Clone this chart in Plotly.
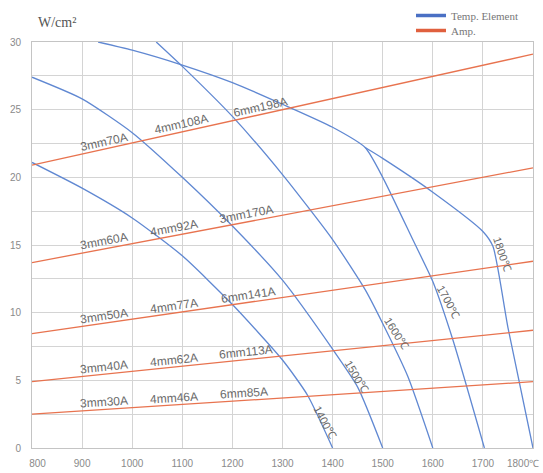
import math
import plotly.graph_objects as go

# ---- data ----
# Temperature-element curves (°C on x, W/cm² on y)
t1400_x = [800, 900, 1000, 1100, 1200, 1300, 1350, 1400]
t1400_y = [21.1, 19.2, 17.0, 14.2, 10.6, 6.5, 3.9, 0.0]

t1500_x = [800, 900, 1000, 1100, 1200, 1300, 1400, 1450, 1500]
t1500_y = [27.4, 25.8, 23.3, 20.0, 16.4, 12.4, 7.3, 4.5, 0.0]

t1600_x = [1048, 1100, 1200, 1300, 1400, 1465, 1500, 1550, 1600]
t1600_y = [30.0, 28.2, 24.5, 20.2, 15.4, 11.7, 9.2, 5.3, 0.0]

t1700_x = [932, 1000, 1100, 1200, 1300, 1400, 1465, 1500, 1560, 1600, 1640, 1703]
t1700_y = [30.0, 29.4, 28.3, 27.0, 25.4, 23.7, 22.2, 20.0, 15.4, 12.3, 8.0, 0.0]

t1800_x = [1465, 1500, 1600, 1700, 1720, 1750, 1800]
t1800_y = [22.2, 21.4, 18.9, 16.0, 14.9, 8.9, 0.0]

temp_curves = [
    ("1400℃", t1400_x, t1400_y),
    ("1500℃", t1500_x, t1500_y),
    ("1600℃", t1600_x, t1600_y),
    ("1700℃", t1700_x, t1700_y),
    ("1800℃", t1800_x, t1800_y),
]

# Temperature labels
temp_label_text = ["1400℃", "1500℃", "1600℃", "1700℃", "1800℃"]
temp_label_x = [1385, 1447, 1527, 1632, 1738]
temp_label_y = [1.95, 5.3, 8.5, 10.8, 14.3]
temp_label_angle = [62, 60, 58, 61, 72]

# Amp lines (straight, from 800 to 1800 °C)
amp_x = [800, 1800]
amp1_y = [20.9, 29.1]
amp2_y = [13.7, 20.7]
amp3_y = [8.45, 13.8]
amp4_y = [4.9, 8.7]
amp5_y = [2.5, 4.9]
amp_lines = [amp1_y, amp2_y, amp3_y, amp4_y, amp5_y]

amp_labels = [
    ["3mm70A", "4mm108A", "6mm198A"],
    ["3mm60A", "4mm92A", "3mm170A"],
    ["3mm50A", "4mm77A", "6mm141A"],
    ["3mm40A", "4mm62A", "6mm113A"],
    ["3mm30A", "4mm46A", "6mm85A"],
]
amp_label_x = [
    [950, 1105, 1263],
    [950, 1089, 1235],
    [950, 1089, 1238],
    [950, 1089, 1233],
    [950, 1089, 1229],
]

NB = "\u00a0"
x_ticks = [800, 900, 1000, 1100, 1200, 1300, 1400, 1500, 1600, 1700, 1800]
x_ticktext = [NB * 4 + "800", "900", "1000", "1100", "1200", "1300", "1400", "1500", "1600", "1700", ""]
x_last_label = "1800℃"
y_ticks = [0, 5, 10, 15, 20, 25, 30]

BLUE = "#6088d2"
RED = "#e8734f"
BLUE_LEG = "#4a70c4"
RED_LEG = "#e0603e"
TXT = "#6a6a6a"
TICK = "#8a8a8a"

W, H = 543, 473
ML, MR, MT, MB = 32, 10, 42, 25
plot_w = W - ML - MR
plot_h = H - MT - MB

fig = go.Figure()

for name, xs, ys in temp_curves:
    fig.add_trace(go.Scatter(x=xs, y=ys, mode="lines", showlegend=False,
                             line=dict(color=BLUE, width=1.3, shape="spline", smoothing=0.6),
                             hoverinfo="skip"))

for ys in amp_lines:
    fig.add_trace(go.Scatter(x=amp_x, y=ys, mode="lines", showlegend=False,
                             line=dict(color=RED, width=1.3), hoverinfo="skip"))

# legend entries (two independent legends for tight spacing)
fig.add_trace(go.Scatter(x=[None], y=[None], mode="lines", name="Temp. Element",
                         line=dict(color=BLUE_LEG, width=3.5), legend="legend"))
fig.add_trace(go.Scatter(x=[None], y=[None], mode="lines", name="Amp.",
                         line=dict(color=RED_LEG, width=3.5), legend="legend2"))

annotations = []
px_per_x = plot_w / 1000.0
px_per_y = plot_h / 30.0
for ys, labels, lxs in zip(amp_lines, amp_labels, amp_label_x):
    slope = (ys[1] - ys[0]) / (amp_x[1] - amp_x[0])
    ang = math.degrees(math.atan(slope * px_per_y / px_per_x))
    for txt, lx in zip(labels, lxs):
        ly = ys[0] + slope * (lx - amp_x[0])
        annotations.append(dict(x=lx, y=ly, xref="x", yref="y", text=txt, showarrow=False,
                                textangle=-ang, yshift=7, xshift=-3,
                                xanchor="center", yanchor="middle",
                                font=dict(family="Liberation Sans, Arial", size=12, color=TXT)))

for txt, lx, ly, a in zip(temp_label_text, temp_label_x, temp_label_y, temp_label_angle):
    annotations.append(dict(x=lx, y=ly, xref="x", yref="y", text=txt, showarrow=False,
                            textangle=a, xanchor="center", yanchor="middle",
                            font=dict(family="Liberation Sans, Arial", size=11, color=TXT)))

# last x tick label kept inside the page, as in the reference
annotations.append(dict(x=x_ticks[-1], y=0, xref="x", yref="paper", text=x_last_label,
                        showarrow=False, xanchor="right", yanchor="top", xshift=8, yshift=-8,
                        font=dict(family="Liberation Sans, Arial", size=10, color=TICK)))

annotations.append(dict(x=(57 - ML) / plot_w, y=1 + (MT - 22) / plot_h, xref="paper", yref="paper",
                        text="W/cm²", showarrow=False, xanchor="center", yanchor="middle",
                        font=dict(family="Liberation Serif, serif", size=14, color="#555555")))

leg_common = dict(xanchor="left", yanchor="middle", bgcolor="rgba(0,0,0,0)",
                  font=dict(family="Liberation Serif, serif", size=11, color="#777777"),
                  itemwidth=30, borderwidth=0)

fig.update_layout(
    width=W, height=H,
    margin=dict(l=ML, r=MR, t=MT, b=MB, autoexpand=False),
    paper_bgcolor="white", plot_bgcolor="white",
    annotations=annotations,
    showlegend=True,
    legend=dict(x=(411 - ML) / plot_w, y=1 + (MT - 15.5) / plot_h, **leg_common),
    legend2=dict(x=(411 - ML) / plot_w, y=1 + (MT - 30.5) / plot_h, **leg_common),
    xaxis=dict(range=[799.99, 1800.01], tickvals=x_ticks, ticktext=x_ticktext,
               showgrid=True, gridcolor="#d4d4d4", gridwidth=1,
               showline=True, linecolor="#c4c4c4", mirror=True, zeroline=False,
               ticks="", ticklabelstandoff=6, ticklabeloverflow="allow",
               tickfont=dict(family="Liberation Sans, Arial", size=10, color=TICK)),
    yaxis=dict(range=[0, 30], tickvals=y_ticks,
               showgrid=True, gridcolor="#d4d4d4", gridwidth=1,
               minor=dict(dtick=2.5, showgrid=True, gridcolor="#d4d4d4", gridwidth=1),
               showline=True, linecolor="#c4c4c4", mirror=True, zeroline=False,
               ticks="", ticklabelstandoff=8,
               tickfont=dict(family="Liberation Sans, Arial", size=10, color=TICK)),
)

fig.write_html("out.html", config={"displayModeBar": False},
               post_script="document.body.style.margin='0px';document.body.style.overflow='hidden';")
